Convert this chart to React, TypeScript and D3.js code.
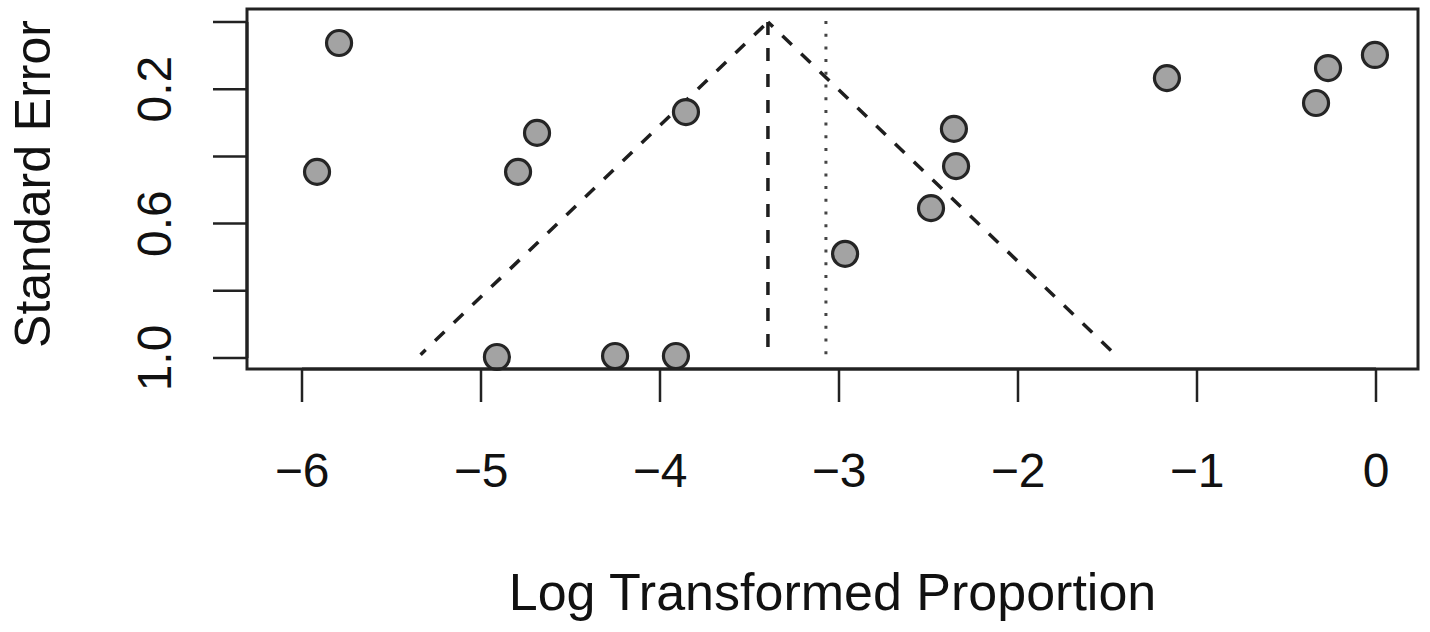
import React from "react";
import * as d3 from "d3";

// ---- data ----
const studyLogProp = [
  -5.793, -5.916, -4.687, -4.793, -3.855, -4.911, -4.251, -3.911,
  -2.966, -2.486, -2.358, -2.346, -1.168, -0.335, -0.268, -0.006,
];
const studySE = [
  0.0625, 0.446, 0.33, 0.446, 0.268, 0.997, 0.994, 0.994,
  0.69, 0.554, 0.318, 0.429, 0.167, 0.241, 0.137, 0.098,
];
const pooledEstimate = -3.397; // dashed centre line / funnel apex
const dottedEstimate = -3.073; // dotted reference line
const funnelMaxSE = 0.99;
const zCrit = 1.96;

const xTicks = [-6, -5, -4, -3, -2, -1, 0];
const yTicks = [0, 0.2, 0.4, 0.6, 0.8, 1.0];
const yLabelTicks = [0.2, 0.6, 1.0];

const xTitle = "Log Transformed Proportion";
const yTitle = "Standard Error";

const W = 1430;
const H = 632;
const box = { left: 247, right: 1418, top: 9, bottom: 369 };

export default function App() {
  const x = d3.scaleLinear().domain([-6, 0]).range([302, 1376]);
  const y = d3.scaleLinear().domain([0, 1]).range([22, 358]);

  const line = d3
    .line<[number, number]>()
    .x((d) => x(d[0]))
    .y((d) => y(d[1]));

  const leftArm: [number, number][] = [
    [pooledEstimate - zCrit * funnelMaxSE, funnelMaxSE],
    [pooledEstimate, 0],
  ];
  const rightArm: [number, number][] = [
    [pooledEstimate, 0],
    [pooledEstimate + zCrit * funnelMaxSE, funnelMaxSE],
  ];

  const font = "'Liberation Sans', Arial, Helvetica, sans-serif";
  const fmtY = (v: number) => v.toFixed(1);
  const fmtX = (v: number) => (v < 0 ? "\u2212" + Math.abs(v) : String(v));

  return (
    <svg
      width={W}
      height={H}
      style={{ position: "absolute", left: 0, top: 0, background: "#fff" }}
      fontFamily={font}
    >
      <rect x={0} y={0} width={W} height={H} fill="#fff" />

      {/* funnel */}
      <path
        d={line(leftArm) || ""}
        fill="none"
        stroke="#1e1e1e"
        strokeWidth={3.5}
        strokeDasharray="13 13"
        strokeDashoffset={6}
      />
      <path
        d={line(rightArm) || ""}
        fill="none"
        stroke="#1e1e1e"
        strokeWidth={3.5}
        strokeDasharray="13 13"
        strokeDashoffset={6}
      />
      {/* vertical centre line (dashed) */}
      <line
        x1={x(pooledEstimate)}
        x2={x(pooledEstimate)}
        y1={y(0)}
        y2={y(funnelMaxSE)}
        stroke="#1e1e1e"
        strokeWidth={3.5}
        strokeDasharray="13 13"
      />
      {/* dotted reference line */}
      <line
        x1={x(dottedEstimate)}
        x2={x(dottedEstimate)}
        y1={y(0) - 1}
        y2={y(funnelMaxSE)}
        stroke="#444"
        strokeWidth={3}
        strokeDasharray="3 9.7"
      />

      {/* points */}
      {studyLogProp.map((v, i) => (
        <circle
          key={i}
          cx={x(v)}
          cy={y(studySE[i])}
          r={12.5}
          fill="#a3a3a3"
          stroke="#252525"
          strokeWidth={3.2}
        />
      ))}

      {/* box */}
      <rect
        x={box.left}
        y={box.top}
        width={box.right - box.left}
        height={box.bottom - box.top}
        fill="none"
        stroke="#222"
        strokeWidth={3}
      />

      {/* y axis */}
      <line
        x1={box.left}
        x2={box.left}
        y1={y(yTicks[0])}
        y2={y(yTicks[yTicks.length - 1])}
        stroke="#222"
        strokeWidth={3}
      />
      {yTicks.map((t) => (
        <line
          key={t}
          x1={box.left - 34}
          x2={box.left}
          y1={y(t)}
          y2={y(t)}
          stroke="#222"
          strokeWidth={2.5}
        />
      ))}
      {yLabelTicks.map((t) => (
        <text
          key={t}
          transform={`translate(171,${y(t)}) rotate(-90)`}
          textAnchor="middle"
          fontSize={48}
          fill="#111"
        >
          {fmtY(t)}
        </text>
      ))}

      {/* x axis */}
      <line
        x1={x(xTicks[0])}
        x2={x(xTicks[xTicks.length - 1])}
        y1={box.bottom}
        y2={box.bottom}
        stroke="#222"
        strokeWidth={3}
      />
      {xTicks.map((t) => (
        <line
          key={t}
          x1={x(t)}
          x2={x(t)}
          y1={box.bottom}
          y2={box.bottom + 33}
          stroke="#222"
          strokeWidth={2.5}
        />
      ))}
      {xTicks.map((t) => (
        <text
          key={t}
          x={x(t)}
          y={487}
          textAnchor="middle"
          fontSize={48}
          fill="#111"
        >
          {fmtX(t)}
        </text>
      ))}

      {/* titles */}
      <text
        x={(box.left + box.right) / 2}
        y={610}
        textAnchor="middle"
        fontSize={52}
        fill="#111"
      >
        {xTitle}
      </text>
      <text
        transform={`translate(50,184) rotate(-90)`}
        textAnchor="middle"
        fontSize={50}
        fill="#111"
      >
        {yTitle}
      </text>
    </svg>
  );
}
